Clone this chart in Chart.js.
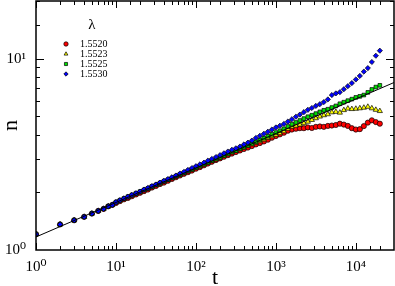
<!DOCTYPE html>
<html>
<head>
<meta charset="utf-8">
<script src="https://cdn.jsdelivr.net/npm/chart.js@4.4.1/dist/chart.umd.min.js"></script>
<style>
  html, body { margin: 0; padding: 0; background: #fff; }
  #graph { display: block; }
</style>
</head>
<body>
<canvas id="graph" width="395" height="286"></canvas>
<script>
// time steps (t)
const tSteps = [1, 2, 3, 4, 5, 6, 7, 8, 9,
  10, 11.2, 12.6, 14.1, 15.8, 17.8, 20, 22.4, 25.1, 28.2, 31.6, 35.5, 39.8, 44.7, 50.1, 56.2, 63.1, 70.8, 79.4, 89.1,
  100, 112, 126, 141, 158, 178, 200, 224, 251, 282, 316, 355, 398, 447, 501, 562, 631, 708, 794, 891,
  1000, 1122, 1259, 1413, 1585, 1778, 1995, 2239, 2512, 2818, 3162, 3548, 3981, 4467, 5012, 5623, 6310, 7079, 7943, 8913,
  10000, 11220, 12589, 14125, 15849, 17783, 19953]

// n for each lambda
const nRed = [1.21, 1.36, 1.43, 1.49, 1.55, 1.60, 1.64, 1.69, 1.72,
  1.76, 1.80, 1.84, 1.87, 1.91, 1.95, 1.99, 2.03, 2.07, 2.12, 2.16, 2.21, 2.25, 2.30, 2.35, 2.40, 2.45, 2.50, 2.55, 2.60,
  2.66, 2.71, 2.77, 2.83, 2.89, 2.95, 3.01, 3.07, 3.13, 3.19, 3.25,
  3.31, 3.37, 3.43, 3.49, 3.56, 3.62, 3.69, 3.77, 3.86, 3.94, 4.02, 4.10, 4.20, 4.26, 4.30, 4.33, 4.33, 4.37, 4.34, 4.40,
  4.42, 4.40, 4.45, 4.47, 4.50, 4.57, 4.52, 4.45, 4.33, 4.26, 4.28, 4.44, 4.63, 4.76, 4.66, 4.57]
const nYellow = [1.21, 1.36, 1.43, 1.49, 1.55, 1.60, 1.64, 1.69, 1.72,
  1.77, 1.81, 1.85, 1.88, 1.92, 1.96, 2.00, 2.05, 2.09, 2.13, 2.18, 2.22, 2.27, 2.32, 2.37, 2.42, 2.47, 2.52, 2.57, 2.62,
  2.68, 2.73, 2.79, 2.85, 2.91, 2.97, 3.03, 3.10, 3.16, 3.23, 3.29,
  3.36, 3.42, 3.49, 3.56, 3.63, 3.70, 3.77, 3.85, 3.93, 4.00, 4.08, 4.17, 4.30, 4.40, 4.46, 4.52, 4.60, 4.68, 4.78, 4.88,
  4.98, 5.06, 5.12, 5.24, 5.27, 5.22, 5.38, 5.48, 5.45, 5.47, 5.50, 5.54, 5.60, 5.50, 5.40, 5.32]
const nGreen = [1.21, 1.36, 1.43, 1.49, 1.55, 1.60, 1.64, 1.69, 1.72,
  1.78, 1.82, 1.86, 1.90, 1.94, 1.98, 2.02, 2.06, 2.10, 2.15, 2.19, 2.24, 2.29, 2.33, 2.38, 2.43, 2.48, 2.53, 2.59, 2.64,
  2.70, 2.75, 2.81, 2.87, 2.93, 2.99, 3.05, 3.12, 3.18, 3.25, 3.31,
  3.38, 3.45, 3.52, 3.60, 3.68, 3.76, 3.84, 3.93, 4.02, 4.11, 4.20, 4.30, 4.42, 4.54, 4.64, 4.75, 4.86, 4.97, 5.06, 5.16,
  5.27, 5.37, 5.44, 5.55, 5.66, 5.81, 5.92, 6.03, 6.14, 6.27, 6.35, 6.45, 6.66, 6.90, 7.10, 7.25]
const nBlue = [1.21, 1.36, 1.43, 1.49, 1.55, 1.60, 1.64, 1.69, 1.72,
  1.78, 1.82, 1.86, 1.90, 1.94, 1.98, 2.02, 2.07, 2.11, 2.16, 2.20, 2.25, 2.30, 2.35, 2.40, 2.45, 2.51, 2.56, 2.62, 2.68,
  2.74, 2.80, 2.86, 2.93, 2.99, 3.06, 3.13, 3.20, 3.27, 3.34, 3.40,
  3.47, 3.56, 3.64, 3.73, 3.85, 3.95, 4.05, 4.15, 4.26, 4.37, 4.46, 4.56, 4.69, 4.82, 4.97, 5.10, 5.25, 5.40, 5.52, 5.66,
  5.78, 5.93, 6.12, 6.45, 6.58, 6.68, 6.92, 7.18, 7.45, 7.78, 8.12, 8.55, 8.92, 9.60, 10.35, 11.0]

// power-law fit line, end points
const fitT = [1, 30000]
const fitN = [1.17, 7.5]

const lambdas = ['1.5520', '1.5523', '1.5525', '1.5530']
const colors = ['#ff0000', '#ffff00', '#00e000', '#0000ff']
const shapes = ['circle', 'triangle', 'rect', 'rectRot']
const superDigits = ['⁰', '¹', '²', '³', '⁴']

const SERIF = "'Liberation Serif', 'DejaVu Serif', serif"

function pts(xs, ys) {
  return xs.map((t, i) => ({x: t, y: ys[i]}))
}

function decadeLabel(v) {
  const e = Math.log10(v)
  if (Math.abs(e - Math.round(e)) > 1e-9) return ''
  return '10' + superDigits[Math.round(e)]
}

const series = [nRed, nYellow, nGreen, nBlue]
let datasets = series.map((ys, i) => ({
  label: lambdas[i],
  data: pts(tSteps, ys),
  pointStyle: shapes[i],
  pointRadius: i == 1 ? 3 : 2.6,
  backgroundColor: colors[i],
  borderColor: '#000',
  pointBorderWidth: 0.7,
  showLine: false,
  order: 4 - i
}))
datasets.push({
  label: 'fit',
  data: pts(fitT, fitN),
  showLine: true,
  borderColor: '#000',
  borderWidth: 1,
  pointRadius: 0,
  order: 0
})

// box + inward ticks on all four sides
const frame = {
  id: 'frame',
  afterDraw(chart) {
    const {ctx, chartArea: a} = chart
    const sx = chart.scales.x, sy = chart.scales.y
    ctx.save()
    ctx.strokeStyle = '#000'
    ctx.lineWidth = 1
    ctx.beginPath()
    sx.ticks.forEach(tk => {
      const px = Math.round(sx.getPixelForValue(tk.value)) + 0.5
      if (px < a.left || px > a.right) return
      const len = decadeLabel(tk.value) ? 7 : 4
      ctx.moveTo(px, a.bottom); ctx.lineTo(px, a.bottom - len)
      ctx.moveTo(px, a.top); ctx.lineTo(px, a.top + len)
    })
    sy.ticks.forEach(tk => {
      const py = Math.round(sy.getPixelForValue(tk.value)) + 0.5
      if (py < a.top || py > a.bottom) return
      const len = decadeLabel(tk.value) ? 8 : 4
      ctx.moveTo(a.left, py); ctx.lineTo(a.left + len, py)
      ctx.moveTo(a.right, py); ctx.lineTo(a.right - len, py)
    })
    ctx.stroke()
    ctx.lineWidth = 1.5
    ctx.strokeRect(a.left, a.top, a.right - a.left, a.bottom - a.top)
    ctx.restore()
  }
}

// legend drawn inside the plot, title lambda on top
const innerLegend = {
  id: 'innerLegend',
  afterDraw(chart) {
    const ctx = chart.ctx
    ctx.save()
    ctx.fillStyle = '#000'
    ctx.font = '15px ' + SERIF
    ctx.textAlign = 'center'
    ctx.textBaseline = 'middle'
    ctx.fillText('λ', 92, 25)
    ctx.font = '10px ' + SERIF
    ctx.textAlign = 'left'
    lambdas.forEach((lbl, i) => {
      const y = 44 + i * 10
      ctx.fillStyle = colors[i]
      ctx.strokeStyle = '#000'
      ctx.lineWidth = 0.7
      Chart.helpers.drawPoint(ctx, {pointStyle: shapes[i], radius: 2.2, rotation: 0, borderWidth: 0.7}, 66, y)
      ctx.fillStyle = '#000'
      ctx.fillText(lbl, 80, y + 0.5)
    })
    ctx.restore()
  }
}

const config = {
  type: 'scatter',
  data: {datasets: datasets},
  options: {
    responsive: false,
    animation: false,
    devicePixelRatio: 1,
    layout: {autoPadding: false, padding: {top: 1, right: 1, left: 0, bottom: 0}},
    plugins: {legend: {display: false}, tooltip: {enabled: false}},
    scales: {
      x: {
        type: 'logarithmic',
        min: 1,
        max: 30000,
        grid: {display: false},
        border: {display: false},
        ticks: {
          autoSkip: false,
          maxRotation: 0,
          padding: 0,
          color: '#000',
          font: {family: SERIF, size: 15},
          callback: (v) => decadeLabel(v)
        },
        title: {display: true, text: 't', color: '#000', font: {family: SERIF, size: 22, lineHeight: 1}, padding: {top: 0, bottom: -3}},
        afterFit: (s) => { s.height = 36; s.paddingLeft = 0; s.paddingRight = 0 }
      },
      y: {
        type: 'logarithmic',
        min: 1,
        max: 20,
        grid: {display: false},
        border: {display: false},
        ticks: {
          autoSkip: false,
          padding: 2,
          color: '#000',
          font: {family: SERIF, size: 15},
          callback: (v) => decadeLabel(v)
        },
        title: {display: true, text: 'n', color: '#000', font: {family: SERIF, size: 22, lineHeight: 1}, padding: {top: 0, bottom: 0}},
        afterFit: (s) => { s.width = 36; s.paddingTop = 0; s.paddingBottom = 0 }
      }
    }
  },
  plugins: [frame, innerLegend]
}

let chart = new Chart(document.querySelector('#graph'), config)
</script>
</body>
</html>
